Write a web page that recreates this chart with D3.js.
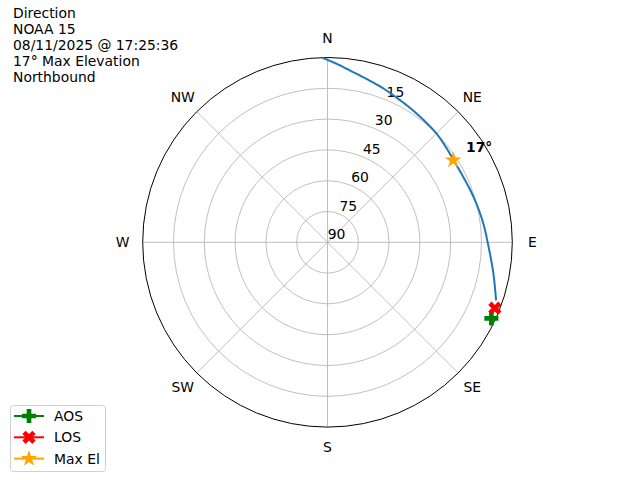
<!DOCTYPE html>
<html><head><meta charset="utf-8">
<script src="https://cdn.jsdelivr.net/npm/d3@7"></script>
<style>body{margin:0;background:#fff}svg{display:block}text{font-family:"DejaVu Sans",sans-serif;}</style>
</head><body><svg id="c" width="640" height="480"></svg>
<script>
const titleLines = ["Direction","NOAA 15","08/11/2025 @ 17:25:36","17\u00b0 Max Elevation","Northbound"];
const compassLabels = ["N","NE","E","SE","S","SW","W","NW"];
const compassAngles = [0,45,90,135,180,225,270,315];
const radialTicks = [15,30,45,60,75,90];
const trackAz = [-1.5, 3, 8, 14, 20, 25, 30, 35, 40, 45, 51, 57, 63, 69, 76, 83, 90, 95, 100, 105, 109];
const trackEl = [0.2, 3.0, 5.9, 8.4, 10.3, 11.8, 12.9, 13.8, 14.5, 15.0, 16.0, 16.7, 16.7, 16.1, 15.0, 13.6, 12.0, 10.3, 8.1, 5.6, 3.2];
const aosPoint = {az:114.9, el:2.0};
const losPoint = {az:111.5, el:2.4};
const maxElPoint = {az:56.8, el:16.9};
const maxElLabel = "17\u00b0";
const legendItems = ["AOS","LOS","Max El"];

const svg = d3.select("#c");
const cx = 327.5, cy = 242.3, R = 184.8;
const r = d3.scaleLinear().domain([90,0]).range([0,R]);
const ang = d3.scaleLinear().domain([0,360]).range([0,2*Math.PI]);
const g = svg.append("g").attr("transform",`translate(${cx},${cy})`);
const pt = (az,el)=>{const a=ang(az), rr=r(el); return [rr*Math.sin(a), -rr*Math.cos(a)];};

g.selectAll("circle.grid").data(radialTicks.filter(d=>d<90)).enter().append("circle")
 .attr("r",d=>r(d)).attr("fill","none").attr("stroke","#b0b0b0").attr("stroke-width",0.8);
g.selectAll("line.spoke").data(compassAngles).enter().append("line")
 .attr("x1",0).attr("y1",0).attr("x2",d=>pt(d,0)[0]).attr("y2",d=>pt(d,0)[1])
 .attr("stroke","#b0b0b0").attr("stroke-width",0.8);
g.append("circle").attr("r",R).attr("fill","none").attr("stroke","#000").attr("stroke-width",1);
g.selectAll("text.cl").data(compassLabels).enter().append("text")
 .attr("x",(d,i)=>(R+20)*Math.sin(ang(compassAngles[i])))
 .attr("y",(d,i)=>-(R+20)*Math.cos(ang(compassAngles[i])))
 .attr("text-anchor","middle").attr("dominant-baseline","central").attr("font-size","13.9px").text(d=>d);
g.selectAll("text.rl").data(radialTicks).enter().append("text")
 .attr("x",d=>pt(22.5,d)[0]+9).attr("y",d=>pt(22.5,d)[1]-8)
 .attr("text-anchor","middle").attr("dominant-baseline","central").attr("font-size","13.9px").text(d=>d);

// track: smooth interpolation in (az, el) space (Hermite with finite-difference tangents)
const n = trackAz.length;
const m = trackAz.map((a,i)=>{
  const i0=Math.max(0,i-1), i1=Math.min(n-1,i+1);
  return (trackEl[i1]-trackEl[i0])/(trackAz[i1]-trackAz[i0]);
});
const samples = [];
for(let i=0;i<n-1;i++){
  const x0=trackAz[i], x1=trackAz[i+1], y0=trackEl[i], y1=trackEl[i+1], h=x1-x0;
  const steps=16;
  for(let s=0;s<steps;s++){
    const t=s/steps, t2=t*t, t3=t2*t;
    const y=(2*t3-3*t2+1)*y0+(t3-2*t2+t)*h*m[i]+(-2*t3+3*t2)*y1+(t3-t2)*h*m[i+1];
    samples.push([x0+h*t, y]);
  }
}
samples.push([trackAz[n-1], trackEl[n-1]]);
const line = d3.line().x(d=>pt(d[0],d[1])[0]).y(d=>pt(d[0],d[1])[1]);
g.append("path").datum(samples).attr("d",line)
 .attr("fill","none").attr("stroke","#1f77b4").attr("stroke-width",2);

const plus = d3.symbol().type(d3.symbolCross).size(110);
const star = d3.symbol().type(d3.symbolStar).size(85);
function marker(sel, p, sym, color, rot){
  const [x,y]=pt(p.az,p.el);
  sel.append("path").attr("d",sym()).attr("transform",`translate(${x},${y}) rotate(${rot})`).attr("fill",color);
}
marker(g, aosPoint, plus, "green", 0);
marker(g, losPoint, plus, "red", 45);
marker(g, maxElPoint, star, "orange", 0);
g.append("text").attr("x",466-cx).attr("y",147-cy).attr("dominant-baseline","central")
 .attr("font-size","13.9px").attr("font-weight","bold").text(maxElLabel);
svg.selectAll("text.t").data(titleLines).enter().append("text")
 .attr("x",13).attr("y",(d,i)=>12.5+i*16.2).attr("dominant-baseline","central")
 .attr("font-size","13.9px").text(d=>d);
const lg = svg.append("g");
lg.append("rect").attr("x",10.5).attr("y",405.5).attr("width",95).attr("height",66).attr("rx",3)
 .attr("fill","#fff").attr("fill-opacity",0.8).attr("stroke","#d0d0d0");
const legColors = ["green","red","orange"];
const legSyms = [plus, plus, star];
const legRot = [0,45,0];
legendItems.forEach((name,i)=>{
  const y = 416 + i*21.3;
  lg.append("line").attr("x1",14).attr("x2",44).attr("y1",y).attr("y2",y).attr("stroke",legColors[i]).attr("stroke-width",2);
  lg.append("path").attr("d",legSyms[i]()).attr("transform",`translate(29,${y}) rotate(${legRot[i]})`).attr("fill",legColors[i]);
  lg.append("text").attr("x",54).attr("y",y).attr("dominant-baseline","central").attr("font-size","13.9px").text(name);
});
</script></body></html>
